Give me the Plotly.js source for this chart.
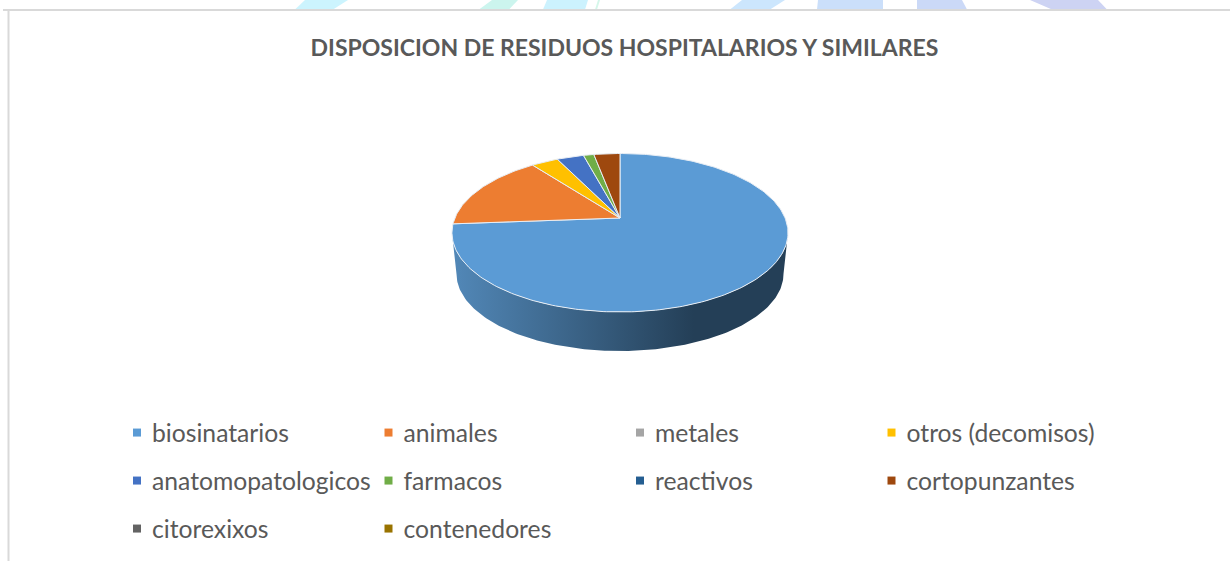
<!DOCTYPE html>
<html>
<head>
<meta charset="utf-8">
<script src="https://cdn.plot.ly/plotly-3.0.1.min.js"></script>
<style>html,body{margin:0;padding:0;background:#fff}#chart{width:1230px;height:561px}text{font-variant-ligatures:none}</style>
</head>
<body>
<div id="chart"></div>
<script>
// Data (percent shares, clockwise from 12 o'clock)
const categories = ['biosinatarios','animales','metales','otros (decomisos)','anatomopatologicos','farmacos','reactivos','cortopunzantes','citorexixos','contenedores'];
const shares = [73.8, 15.8, 0, 3.1, 3.1, 1.2, 0, 3.0, 0, 0];
const colors = ['#5B9BD5','#ED7D31','#A5A5A5','#FFC000','#4472C4','#70AD47','#255E91','#9E480E','#636363','#997300'];
const titleText = 'DISPOSICION DE RESIDUOS HOSPITALARIOS Y SIMILARES';

// Pale background bands at the very top of the page: [x bottom-left, x bottom-right, x top-right, x top-left, colour]
const bands = [
  [295,333,348,305,'#ccf4fe'],[479,509,518,492,'#ccf5ee'],[543,585,588,547,'#ccf2fe'],
  [595,597,600,598,'#d5f7ea'],[730,770,785,742,'#cce6fd'],[817,883,883,818,'#cbdffa'],
  [917,967,962,917,'#cbd9f7'],[1052,1107,1098,1030,'#cdd3f3']
];

// Pie geometry in page pixels (the axes below span the page 1:1)
const cx = 620, tipY = 218, persp = 0.186, A = 165.1, B = 76.5, depth = 41.6, rimScale = 0.973;
function rim(deg, scale, dy){
  const t = deg * Math.PI / 180, X = Math.sin(t), Y = -Math.cos(t), w = 1 - persp * Y;
  return [cx + scale * A * X / w, tipY + dy + scale * B * Y / w];
}
function arc(from, to, scale, dy){
  const n = Math.max(2, Math.ceil(Math.abs(to - from))), pts = [];
  for (let i = 0; i <= n; i++) pts.push(rim(from + (to - from) * i / n, scale, dy));
  return pts;
}

const traces = [];
// Side wall of the disc
const edge = Math.acos(-persp) * 180 / Math.PI;
const wall = arc(edge, 360 - edge, 1, 0).concat(arc(360 - edge, edge, rimScale, depth));
traces.push({
  x: wall.map(p => p[0]), y: wall.map(p => p[1]), mode: 'lines', fill: 'toself',
  line: {width: 0, color: '#233f57'}, showlegend: false, hoverinfo: 'skip',
  fillgradient: {type: 'horizontal', colorscale: [[0,'#5288b8'],[0.72,'#243f57'],[1,'#243f57']]}
});
// Top face slices
let acc = 0;
const total = shares.reduce((a, b) => a + b, 0);
shares.forEach((v, i) => {
  const a0 = acc / total * 360; acc += v; const a1 = acc / total * 360;
  if (v <= 0) return;
  const pts = [[cx, tipY]].concat(arc(a0, a1, 1, 0), [[cx, tipY]]);
  traces.push({
    x: pts.map(p => p[0]), y: pts.map(p => p[1]), mode: 'lines', fill: 'toself',
    fillcolor: colors[i], line: {color: '#e8eef5', width: 1}, name: categories[i],
    showlegend: false, hoverinfo: 'name'
  });
});
// Legend entries, four per row, one legend per row
const legendIds = ['legend', 'legend2', 'legend3'];
categories.forEach((c, i) => {
  traces.push({
    x: [null], y: [null], mode: 'markers', name: c,
    marker: {symbol: 'square', size: 8, color: colors[i]},
    legend: legendIds[Math.floor(i / 4)], showlegend: true, hoverinfo: 'skip'
  });
});
function legendAt(rowY){
  return {
    orientation: 'h', x: 112 / 1230, xanchor: 'left', y: 1 - rowY / 561, yanchor: 'middle',
    entrywidth: 206.5, entrywidthmode: 'pixels', traceorder: 'normal',
    bgcolor: 'rgba(0,0,0,0)', borderwidth: 0, itemclick: false, itemdoubleclick: false,
    font: {family: 'Lato, Carlito, sans-serif', size: 24.7, color: '#595959'}
  };
}
const shapes = bands.map(b => ({
  type: 'path', xref: 'x', yref: 'y', layer: 'below', line: {width: 0}, fillcolor: b[4],
  path: `M${b[0]},9.5 L${b[1]},9.5 L${b[2]},0 L${b[3]},0 Z`
}));
shapes.push({type:'line', xref:'x', yref:'y', x0:3, x1:1230, y0:10, y1:10, layer:'below', line:{color:'#d9d9d9', width:2}});
shapes.push({type:'line', xref:'x', yref:'y', x0:8.5, x1:8.5, y0:10, y1:561, layer:'below', line:{color:'#d9d9d9', width:2}});

const layout = {
  width: 1230, height: 561, margin: {l:0, r:0, t:0, b:0},
  paper_bgcolor: '#fff', plot_bgcolor: '#fff', showlegend: true,
  title: {text: '<b>' + titleText + '</b>', x: 624.5 / 1230, xanchor: 'center', xref: 'paper',
          y: 1 - 48 / 561, yanchor: 'middle', yref: 'container',
          font: {family: 'Lato, Carlito, sans-serif', size: 23, color: '#595959'}},
  xaxis: {range: [0, 1230], visible: false, fixedrange: true},
  yaxis: {range: [561, 0], visible: false, fixedrange: true},
  legend: legendAt(433), legend2: legendAt(481), legend3: legendAt(529),
  shapes: shapes
};
Plotly.newPlot('chart', traces, layout, {displayModeBar: false}).then(gd => {
  // Bring the legend squares closer to their labels, as in the reference
  gd.querySelectorAll('.legendsymbols').forEach(g => g.setAttribute('transform', 'translate(5,0)'));
});
</script>
</body>
</html>
